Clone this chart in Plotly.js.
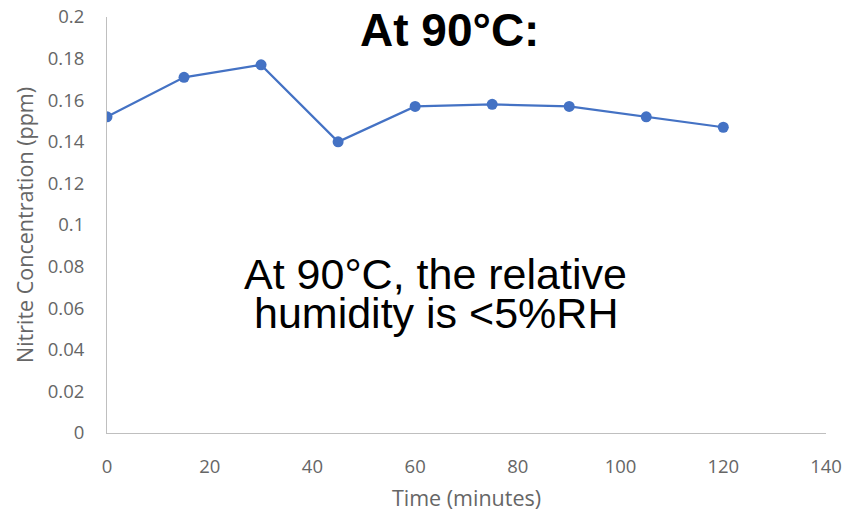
<!DOCTYPE html>
<html>
<head>
<meta charset="utf-8">
<script src="https://cdn.plot.ly/plotly-3.0.1.min.js"></script>
<style>html,body{margin:0;padding:0;background:#fff;}#chart{width:846px;height:513px;}</style>
</head>
<body>
<div id="chart"></div>
<script>
const timeMinutes = [0, 15, 30, 45, 60, 75, 90, 105, 120];
const nitritePpm = [0.152, 0.171, 0.177, 0.140, 0.157, 0.158, 0.157, 0.152, 0.147];
const chartTitle = "At 90°C:";
const noteLine1 = "At 90°C, the relative";
const noteLine2 = "humidity is <5%RH";
const xTitle = "Time (minutes)";
const yTitle = "Nitrite Concentration (ppm)";

const tickFont = {family: "Open Sans, sans-serif", size: 18.5, color: "#666666"};
const titleFont = {family: "Open Sans, sans-serif", size: 21.5, color: "#666666"};

const trace = {
  x: timeMinutes,
  y: nitritePpm,
  type: "scatter",
  mode: "lines+markers",
  line: {color: "#4472C4", width: 2.25},
  marker: {color: "#4472C4", size: 11, symbol: "circle"},
  hoverinfo: "none"
};

const layout = {
  width: 846,
  height: 513,
  margin: {l: 107, r: 20, t: 17, b: 80},
  paper_bgcolor: "#ffffff",
  plot_bgcolor: "#ffffff",
  showlegend: false,
  xaxis: {
    range: [0, 140],
    dtick: 20,
    tick0: 0,
    showgrid: false,
    zeroline: false,
    showline: true,
    linecolor: "#bfbfbf",
    linewidth: 1,
    ticks: "",
    ticklabelstandoff: 17,
    tickfont: tickFont,
    title: {text: xTitle, font: titleFont, standoff: 13}
  },
  yaxis: {
    range: [0, 0.2],
    dtick: 0.02,
    tick0: 0,
    showgrid: false,
    zeroline: false,
    showline: true,
    linecolor: "#bfbfbf",
    linewidth: 1,
    ticks: "",
    ticklabelstandoff: 18,
    tickfont: tickFont,
    title: {text: yTitle, font: titleFont, standoff: 8}
  },
  annotations: [
    {text: "<b>" + chartTitle + "</b>", xref: "paper", yref: "paper", x: (449 - 107) / 719, y: 1 - (30 - 17) / 416,
     xanchor: "center", yanchor: "middle", showarrow: false,
     font: {family: "Liberation Sans, Arial, sans-serif", size: 46, color: "#000000"}},
    {text: noteLine1, xref: "paper", yref: "paper", x: (435.5 - 107) / 719, y: 1 - (274 - 17) / 416,
     xanchor: "center", yanchor: "middle", showarrow: false,
     font: {family: "Liberation Sans, Arial, sans-serif", size: 43, color: "#000000"}},
    {text: noteLine2, xref: "paper", yref: "paper", x: (435.5 - 107) / 719, y: 1 - (313 - 17) / 416,
     xanchor: "center", yanchor: "middle", showarrow: false,
     font: {family: "Liberation Sans, Arial, sans-serif", size: 43, color: "#000000"}}
  ]
};

Plotly.newPlot("chart", [trace], layout, {staticPlot: true, displayModeBar: false});
</script>
</body>
</html>
